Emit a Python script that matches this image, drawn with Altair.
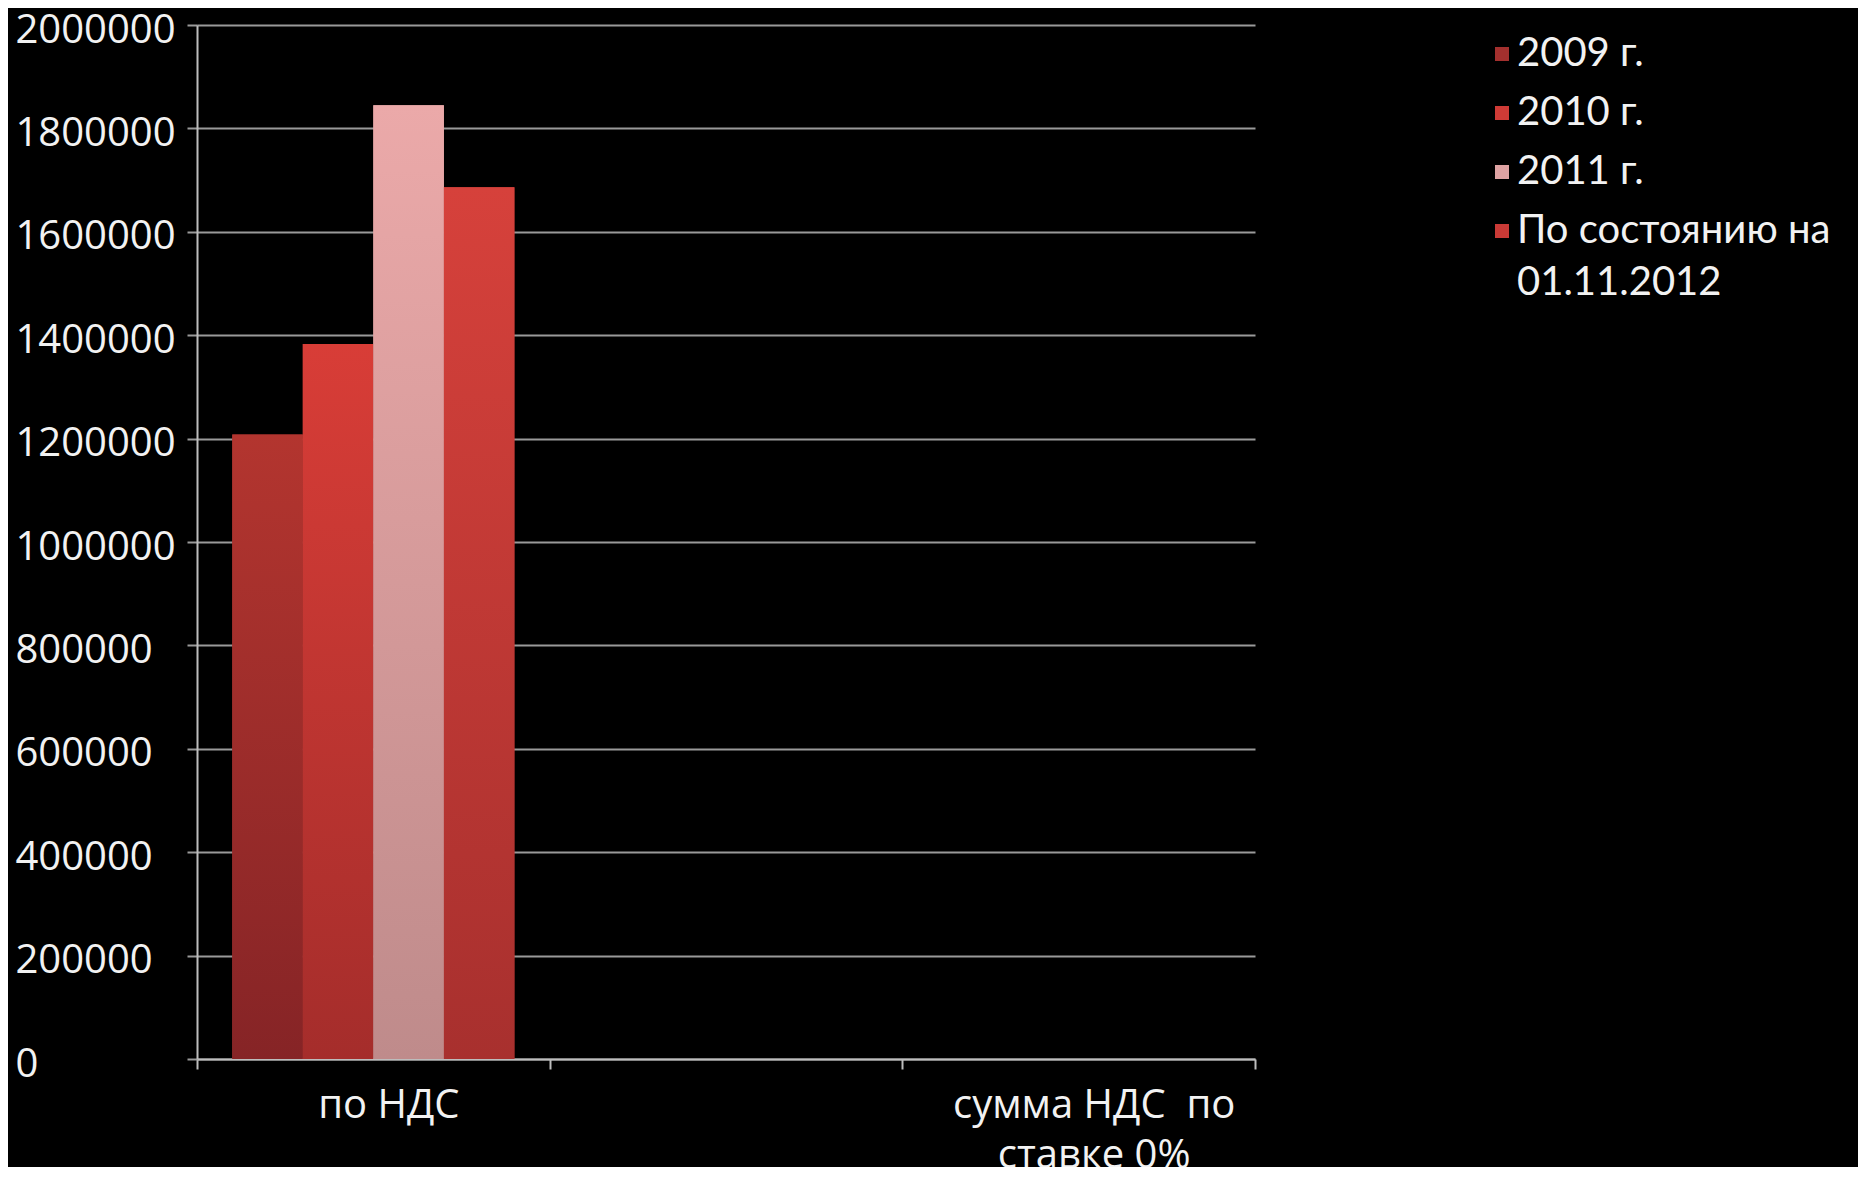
import altair as alt
import pandas as pd

# ---- data ----
categories = ["по НДС", "", "сумма НДС  по ставке 0%"]
series = ["2009 г.", "2010 г.", "2011 г.", "По состоянию на 01.11.2012"]
values_nds = [1208000, 1383000, 1845000, 1686000]
y_ticks = [0, 200000, 400000, 600000, 800000, 1000000, 1200000,
           1400000, 1600000, 1800000, 2000000]

# ---- styling ----
series_colors = ["#a3302e", "#cf3b36", "#dfa3a3", "#c93a36"]
gradient_top = ["#b3352f", "#d83d37", "#eba9a9", "#d6413b"]
gradient_bottom = ["#862426", "#a52d2b", "#bf8b8b", "#a8302e"]

df = pd.DataFrame({
    "category": [categories[0]] * len(series),
    "series": series,
    "value": values_nds,
})

FONT = "Open Sans"
LEGEND_FONT = "Lato"

x_enc = alt.X(
    "category:N",
    sort=categories,
    scale=alt.Scale(domain=categories, paddingInner=0, paddingOuter=0),
    axis=alt.Axis(
        title=None, labelAngle=0, tickBand="extent", grid=False,
        labelExpr="datum.value == 'сумма НДС  по ставке 0%' ? ['сумма НДС\u00a0 по', 'ставке 0%'] : datum.label",
        labelFontSize=40, labelLineHeight=50, labelPadding=16, tickSize=10,
        labelOffset=15,
        labelLimit=500, labelColor="#f2f2f2", labelFont=FONT,
        domainColor="#bdbdbd", tickColor="#bdbdbd", domainWidth=2, tickWidth=2,
    ),
)
y_enc = alt.Y(
    "value:Q",
    scale=alt.Scale(domain=[0, 2000000], nice=False),
    axis=alt.Axis(
        title=None, values=y_ticks, format="d",
        labelAlign="left", labelBaseline="middle", labelPadding=172,
        labelOffset=5, tickSize=10, labelFontSize=40, labelColor="#f2f2f2",
        labelFont=FONT, gridColor="#9a9a9a", gridWidth=2,
        domainColor="#bdbdbd", tickColor="#9a9a9a", domainWidth=2, tickWidth=2,
    ),
)
xoff_enc = alt.XOffset(
    "series:N", sort=series,
    scale=alt.Scale(domain=series, paddingInner=0, paddingOuter=0.5),
)

base = alt.Chart(df).mark_bar().encode(
    x=x_enc, y=y_enc, xOffset=xoff_enc,
    color=alt.Color(
        "series:N",
        scale=alt.Scale(domain=series, range=series_colors),
        legend=alt.Legend(
            title=None, orient="none", legendX=1285, legendY=9, padding=0,
            labelExpr="datum.label == 'По состоянию на 01.11.2012' ? ['По состоянию на', '01.11.2012'] : datum.label",
            labelFontSize=40, labelFont=LEGEND_FONT,
            labelColor="#f2f2f2", labelLimit=600, labelOffset={"expr": "-5"},
            symbolType="square", symbolSize=196, symbolStrokeWidth=0,
            rowPadding=19,
        ),
    ),
)

layers = [base]
for i, s in enumerate(series):
    grad = alt.Gradient(
        gradient="linear",
        stops=[alt.GradientStop(color=gradient_top[i], offset=0),
               alt.GradientStop(color=gradient_bottom[i], offset=1)],
        x1=0, x2=0, y1=0, y2=1,
    )
    layers.append(
        alt.Chart(df).transform_filter(alt.datum.series == s)
        .mark_bar(color=grad)
        .encode(x=x_enc, y=y_enc, xOffset=xoff_enc)
    )

chart = (
    alt.layer(*layers)
    .properties(
        width=1058, height=1034,
        padding={"left": 189, "top": 17, "right": 603, "bottom": 108},
        autosize=alt.AutoSizeParams(type="none"),
    )
    .configure(background="#000000", font=FONT,
               style={"guide-label": {"lineHeight": 52}})
    .configure_view(stroke=None)
)

chart.save("out.html", embed_options={"renderer": "svg", "actions": False})
